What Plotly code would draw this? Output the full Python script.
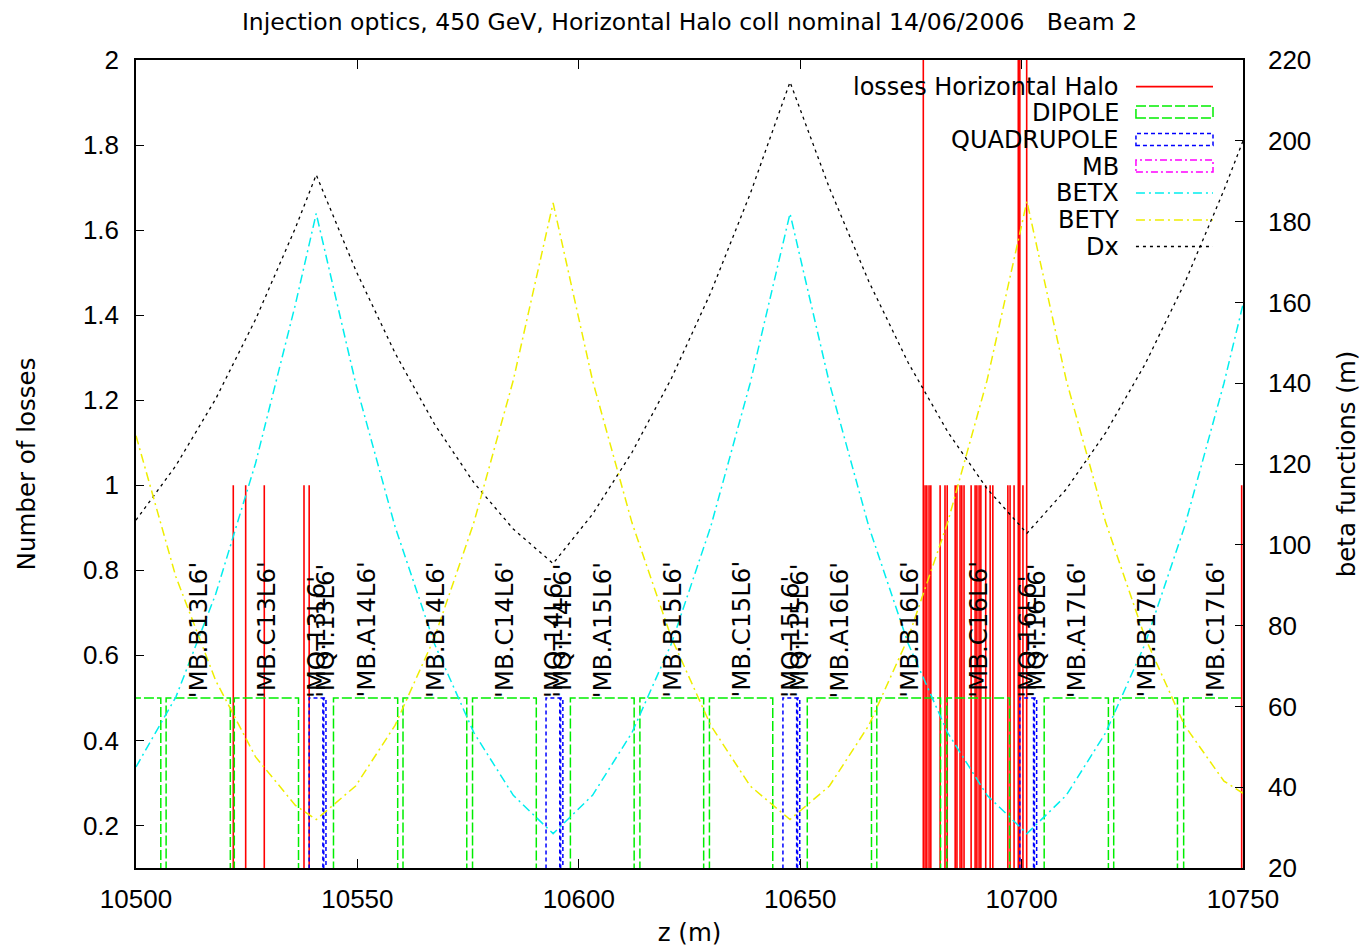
import plotly.graph_objects as go

# ---------------- data ----------------
title_text = "Injection optics, 450 GeV, Horizontal Halo coll nominal 14/06/2006\u00a0\u00a0\u00a0Beam 2"

# beam losses: position (m) and number of losses
loss_z = [10521.97, 10524.77, 10528.97, 10537.94, 10539.11,
          10677.8, 10678.2, 10678.6, 10679.1, 10679.5, 10681.6, 10682.7, 10683.2,
          10685.0, 10685.4, 10686.1, 10686.5, 10687.0, 10688.6, 10689.5, 10689.9,
          10690.4, 10690.8, 10691.9, 10692.9, 10693.5, 10696.9, 10697.4, 10698.3,
          10699.25, 10699.6, 10700.3, 10701.15, 10749.7]
loss_n = [1, 1, 1, 1, 1,
          2, 1, 1, 1, 1, 1, 1, 1,
          1, 1, 1, 1, 1, 1, 1, 1,
          1, 1, 1, 1, 1, 1, 1, 1,
          2, 2, 1, 2, 1]

# dipoles (MB) start / end (m)
dip_start = [10491.1, 10506.8, 10522.2, 10544.6, 10560.3, 10576.0, 10598.1, 10613.8, 10629.5,
             10651.6, 10667.3, 10683.1, 10705.1, 10720.8, 10736.6]
dip_end = [10505.6, 10521.3, 10536.7, 10559.1, 10574.7, 10590.4, 10612.5, 10628.2, 10643.8,
           10666.1, 10681.7, 10697.3, 10719.6, 10735.2, 10751.0]
dip_names = ["'MB.A13L6'", "'MB.B13L6'", "'MB.C13L6'", "'MB.A14L6'", "'MB.B14L6'", "'MB.C14L6'",
             "'MB.A15L6'", "'MB.B15L6'", "'MB.C15L6'", "'MB.A16L6'", "'MB.B16L6'", "'MB.C16L6'",
             "'MB.A17L6'", "'MB.B17L6'", "'MB.C17L6'"]

# quadrupoles (MQ, MQT) start / end (m)
quad_start = [10539.1, 10542.4, 10592.6, 10595.9, 10646.1, 10649.4, 10699.6, 10702.9]
quad_end = [10542.2, 10542.9, 10595.7, 10596.4, 10649.2, 10649.9, 10702.7, 10703.4]
quad_names = ["'MQ.13L6'", "'MQT.13L6'", "'MQ.14L6'", "'MQT.14L6'",
              "'MQ.15L6'", "'MQT.15L6'", "'MQ.16L6'", "'MQT.16L6'"]

box_height = 0.5
label_y = 0.495

# optics functions
z_opt = [10500, 10509, 10518, 10527, 10536, 10540.7, 10549.6, 10558.5, 10567.4, 10576.3,
         10585.2, 10594.2, 10603.1, 10612, 10620.9, 10629.8, 10638.7, 10647.7, 10656.6,
         10665.5, 10674.4, 10683.3, 10692.2, 10701.2, 10710.1, 10719, 10727.9, 10736.8,
         10745.7, 10750]
betx = [45, 62.3, 87.8, 120.2, 159.5, 182, 140, 104.5, 75.5, 53.5, 38, 28.5, 38, 53.5, 75.5,
        104.5, 140, 182, 140, 104.5, 75.5, 53.5, 38, 28.5, 38, 53.5, 75.5, 104.5, 140, 159.5]
bety = [127, 92.1, 66.4, 47.5, 35.5, 32, 40.3, 55.3, 77, 105.5, 140.7, 184.6, 140.7, 105.5, 77,
        55.3, 40.3, 32, 40.3, 55.3, 77, 105.5, 140.7, 185, 140.7, 105.5, 77, 55.3, 41.5, 38.5]
dx = [0.918, 1.046, 1.203, 1.39, 1.605, 1.73, 1.506, 1.311, 1.144, 1.006, 0.897, 0.816, 0.932,
      1.077, 1.251, 1.453, 1.685, 1.948, 1.699, 1.479, 1.288, 1.126, 0.992, 0.887, 0.991, 1.124,
      1.285, 1.475, 1.694, 1.81]

x_range = [10500, 10750]
y_range = [0.1, 2]
y2_range = [20, 220]

# ---------------- styles ----------------
RED = "#ff0000"
GREEN = "#00ee00"
BLUE = "#0000ff"
MAGENTA = "#ff00ff"
CYAN = "#00eeee"
YELLOW = "#eeee00"
BLACK = "#000000"

DASH_DIP = "10px,3px"
DASH_QUAD = "4px,3px"
DASH_MB = "7px,3px,2px,3px"
DASH_BETX = "9px,4px,2px,4px"
DASH_BETY = "9px,4px,2px,4px"
DASH_DX = "3px,4px"

SANS = "DejaVu Sans"
HELV = "Liberation Sans"
TXT = 24.5


def impulses(xs, ns):
    X, Y = [], []
    for x, n in zip(xs, ns):
        X += [x, x, None]
        Y += [0, n, None]
    return X, Y


def boxes(starts, ends, h):
    X, Y = [], []
    for s, e in zip(starts, ends):
        X += [s, s, e, e, None]
        Y += [0, h, h, 0, None]
    return X, Y


fig = go.Figure()

lx, ly = impulses(loss_z, loss_n)
fig.add_trace(go.Scatter(x=lx, y=ly, mode="lines", line=dict(color=RED, width=1.6),
                         name="losses Horizontal Halo", showlegend=False, hoverinfo="skip"))

dxs, dys = boxes(dip_start, dip_end, box_height)
fig.add_trace(go.Scatter(x=dxs, y=dys, mode="lines", line=dict(color=GREEN, width=1.5, dash=DASH_DIP),
                         name="DIPOLE", showlegend=False))

qxs, qys = boxes(quad_start, quad_end, box_height)
fig.add_trace(go.Scatter(x=qxs, y=qys, mode="lines", line=dict(color=BLUE, width=1.5, dash=DASH_QUAD),
                         name="QUADRUPOLE", showlegend=False))

fig.add_trace(go.Scatter(x=z_opt, y=betx, yaxis="y2", mode="lines",
                         line=dict(color=CYAN, width=1.5, dash=DASH_BETX), name="BETX", showlegend=False))
fig.add_trace(go.Scatter(x=z_opt, y=bety, yaxis="y2", mode="lines",
                         line=dict(color=YELLOW, width=1.5, dash=DASH_BETY), name="BETY", showlegend=False))
fig.add_trace(go.Scatter(x=z_opt, y=dx, mode="lines",
                         line=dict(color=BLACK, width=1.3, dash=DASH_DX), name="Dx", showlegend=False))

# element labels
annotations = []
for s, e, n in list(zip(dip_start, dip_end, dip_names)) + list(zip(quad_start, quad_end, quad_names)):
    c = (s + e) / 2
    if x_range[0] < c < x_range[1]:
        annotations.append(dict(x=c, y=label_y, xref="x", yref="y", text=n, textangle=-90,
                                showarrow=False, xanchor="center", yanchor="bottom",
                                font=dict(family=SANS, size=TXT, color="black")))

# manual gnuplot-style key
key = [
    ("losses Horizontal Halo", "line", RED, "solid"),
    ("DIPOLE", "box", GREEN, DASH_DIP),
    ("QUADRUPOLE", "box", BLUE, DASH_QUAD),
    ("MB", "box", MAGENTA, DASH_MB),
    ("BETX", "line", CYAN, DASH_BETX),
    ("BETY", "line", YELLOW, DASH_BETY),
    ("Dx", "line", BLACK, DASH_DX),
]
key_y = [0.9670, 0.9356, 0.9016, 0.8688, 0.8354, 0.8020, 0.7692]
shapes = []
for (txt, kind, col, dash), ky in zip(key, key_y):
    annotations.append(dict(x=0.8889, y=ky, xref="paper", yref="paper", text=txt, showarrow=False,
                            xanchor="right", yanchor="middle", height=25, valign="middle", borderpad=0,
                            font=dict(family=SANS, size=TXT - 0.5, color="black")))
    if kind == "line":
        shapes.append(dict(type="line", xref="paper", yref="paper", x0=0.9033, x1=0.9729, y0=ky, y1=ky,
                           line=dict(color=col, width=1.5 if col != RED else 1.8, dash=dash)))
    else:
        shapes.append(dict(type="rect", xref="paper", yref="paper", x0=0.9033, x1=0.9729,
                           y0=ky - 0.0074, y1=ky + 0.0074, line=dict(color=col, width=1.5, dash=dash)))

axis_common = dict(showline=True, linecolor="black", linewidth=1.5, showgrid=False, zeroline=False,
                   ticks="inside", tickcolor="black", tickwidth=1.3)

# the page body adds an 8px offset; the figure is sized so the plot area lands at 136..1243 x 60..868
fig.update_layout(
    width=1363, height=942,
    paper_bgcolor="white", plot_bgcolor="white",
    margin=dict(l=128, r=128, t=52, b=82, autoexpand=False),
    title=dict(text=title_text, x=0.5, xref="paper", xanchor="center", y=1 - 13.5 / 942, yref="container",
               yanchor="middle", pad=dict(t=0, b=0), font=dict(family=SANS, size=23.5, color="black")),
    xaxis=dict(range=x_range, tick0=10500, dtick=50, tickformat="d", ticklen=9, mirror="ticks",
               tickfont=dict(family=HELV, size=26, color="black"), ticklabelstandoff=7,
               title=dict(text="z (m)", font=dict(family=SANS, size=TXT, color="black"), standoff=11),
               **axis_common),
    yaxis=dict(range=y_range, tick0=0, dtick=0.2, ticklen=8, mirror=True,
               tickfont=dict(family=HELV, size=26, color="black"), ticklabelstandoff=10,
               title=dict(text="Number of losses", font=dict(family=SANS, size=TXT, color="black"),
                          standoff=40),
               **axis_common),
    yaxis2=dict(range=y2_range, tick0=20, dtick=20, ticklen=8, overlaying="y", side="right",
                tickfont=dict(family=HELV, size=26, color="black"), ticklabelstandoff=18,
                title=dict(text="beta functions (m)", font=dict(family=SANS, size=TXT, color="black"),
                           standoff=28),
                **axis_common),
    annotations=annotations,
    shapes=shapes,
    showlegend=False,
)

fig.write_html("out.html")
